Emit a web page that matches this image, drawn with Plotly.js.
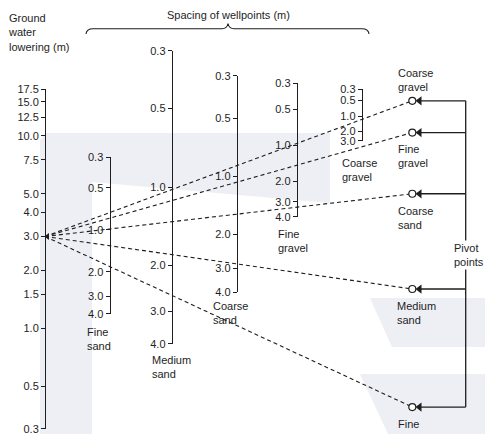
<!DOCTYPE html>
<html>
<head>
<meta charset="utf-8">
<script src="https://cdn.plot.ly/plotly-3.0.1.min.js"></script>
<style>html,body{margin:0;padding:0;background:#fff;}#chart{width:485px;height:434px;}</style>
</head>
<body>
<div id="chart"></div>
<script>
// ---------------- data ----------------
const groundWaterTicks = [17.5, 15.0, 12.5, 10.0, 7.5, 5.0, 4.0, 3.0, 2.0, 1.5, 1.0, 0.5, 0.3];
const spacingTicks = [0.3, 0.5, 1.0, 2.0, 3.0, 4.0];
const coarseGravelTicks = [0.3, 0.5, 1.0, 2.0, 3.0];
const soilNames = ['Fine sand', 'Medium sand', 'Coarse sand', 'Fine gravel', 'Coarse gravel'];
const soilTicks = [spacingTicks, spacingTicks, spacingTicks, spacingTicks, coarseGravelTicks];
// pivot points, read on the ground-water-lowering scale (m)
const pivotNames = ['Coarse gravel', 'Fine gravel', 'Coarse sand', 'Medium sand', 'Fine sand'];
const pivotLowering = [15.2, 10.4, 5.0, 1.6, 0.39];
const exampleLowering = 3.0;

// ---------------- layout helpers ----------------
const W = 485, H = 434;
const px = x => x / W;
const py = y => 1 - y / H;
const FONT = 'Liberation Sans, Arial, Helvetica, sans-serif';
const INK = '#1e1e1e';
const EPS = 1e-4;

// horizontal placement (pixels) of each scale
const gwX = 45;
const soilX = [109.5, 171.7, 236.7, 296.7, 361.7];
// vertical extent (pixels, top/bottom) of each scale
const gwTop = 89, gwBottom = 429;
const soilTop = [157, 50.7, 75.7, 83.3, 89];
const soilBottom = [314, 344, 292.3, 216.7, 140.7];
const pivotX = 412.3, collectorX = 465.7, arrowTipX = 419.5;

function scaleAxis(ticks, top, bottom, xPos, reversed) {
  const lo = Math.log10(Math.min(...ticks)) - EPS, hi = Math.log10(Math.max(...ticks)) + EPS;
  return {
    type: 'log',
    range: reversed ? [hi, lo] : [lo, hi],
    domain: [py(bottom), py(top)],
    anchor: 'free', position: px(xPos), side: 'left',
    showline: true, linecolor: INK, linewidth: 1.2,
    ticks: 'outside', ticklen: 4, tickwidth: 1, tickcolor: INK,
    tickmode: 'array', tickvals: ticks, ticktext: ticks.map(v => v.toFixed(1)),
    tickfont: {family: FONT, size: 11, color: INK},
    ticklabeloverflow: 'allow',
    showgrid: false, zeroline: false, automargin: false, fixedrange: true
  };
}

const layout = {
  width: W, height: H,
  margin: {l: 0, r: 0, t: 0, b: 0},
  paper_bgcolor: '#ffffff', plot_bgcolor: 'rgba(0,0,0,0)',
  showlegend: false,
  xaxis: {range: [0, W], domain: [0, 1], visible: false, fixedrange: true, anchor: 'y'},
  yaxis: scaleAxis(groundWaterTicks, gwTop, gwBottom, gwX, false),
  annotations: [], shapes: []
};

soilTicks.forEach((t, i) => {
  layout['yaxis' + (i + 2)] = scaleAxis(t, soilTop[i], soilBottom[i], soilX[i], true);
});

const traces = [];
// hidden traces so every scale is a live subplot
soilTicks.forEach((t, i) => {
  traces.push({x: [soilX[i], soilX[i]], y: [t[0], t[t.length - 1]], yaxis: 'y' + (i + 2),
    mode: 'lines', opacity: 0, hoverinfo: 'skip'});
});
// dashed construction lines
pivotLowering.forEach(p => {
  traces.push({x: [gwX, pivotX], y: [exampleLowering, p], mode: 'lines',
    line: {color: INK, width: 1.1, dash: '4px,3px'}, hoverinfo: 'skip'});
});
// start mark on the ground-water scale
traces.push({x: [gwX + 2.5], y: [exampleLowering], mode: 'markers',
  marker: {symbol: 'triangle-left', size: 6, color: INK}, hoverinfo: 'skip'});
// arrows from collector bar
pivotLowering.forEach(p => {
  traces.push({x: [collectorX, arrowTipX], y: [p, p], mode: 'lines',
    line: {color: INK, width: 1.3}, hoverinfo: 'skip'});
});
traces.push({x: [collectorX, collectorX], y: [Math.max(...pivotLowering), Math.min(...pivotLowering)],
  mode: 'lines', line: {color: INK, width: 1.3}, hoverinfo: 'skip'});
traces.push({x: pivotLowering.map(() => arrowTipX), y: pivotLowering, mode: 'markers',
  marker: {symbol: 'triangle-left', size: 8, color: INK}, hoverinfo: 'skip'});
// pivot circles
traces.push({x: pivotLowering.map(() => pivotX), y: pivotLowering, mode: 'markers',
  marker: {symbol: 'circle', size: 7, color: '#ffffff', line: {color: INK, width: 1.2}}, hoverinfo: 'skip'});

// ---------------- text ----------------
function label(text, xLeft, yMid, extra) {
  layout.annotations.push(Object.assign({
    text: text, xref: 'paper', yref: 'paper', x: px(xLeft), y: py(yMid),
    xanchor: 'left', yanchor: 'middle', align: 'left', showarrow: false,
    font: {family: FONT, size: 11, color: INK}, borderpad: 0
  }, extra || {}));
}
label('Spacing of wellpoints (m)', 228, 15, {xanchor: 'center', align: 'center'});
label('Ground<br>water<br>lowering (m)', 7, 32);
const axisLabelPos = [[86, 338.5], [151, 366.7], [212, 313.3], [277, 240.5], [341, 169.5]];
soilNames.forEach((n, i) => label(n.replace(' ', '<br>'), axisLabelPos[i][0], axisLabelPos[i][1]));
const pivotLabelPos = [[397, 80.3], [397, 155.7], [397, 217.5], [396, 312.5], [397, 431]];
pivotNames.forEach((n, i) => label(n.replace(' ', '<br>'), pivotLabelPos[i][0], pivotLabelPos[i][1]));
label('Pivot<br>points', 469, 254.5, {xanchor: 'center', align: 'left', bgcolor: '#ffffff', borderpad: 1});

// ---------------- brace over the spacing scales ----------------
const braceY = 28.7;
const braceD = ['M', px(86), py(34), 'Q', px(86.5), py(braceY), px(93), py(braceY),
  'L', px(222), py(braceY), 'Q', px(227), py(braceY), px(228), py(23.5),
  'Q', px(229), py(braceY), px(234), py(braceY),
  'L', px(362), py(braceY), 'Q', px(368.5), py(braceY), px(369), py(34)].join(' ');
layout.shapes.push({type: 'path', xref: 'paper', yref: 'paper', path: braceD,
  line: {color: INK, width: 1.1}, layer: 'above'});

// ---------------- faint background watermark ----------------
function poly(pts) {
  return 'M ' + pts.map(p => px(p[0]) + ',' + py(p[1])).join(' L ') + ' Z';
}
const WM = '#eeeff5';
[
  [[40, 140], [46, 133], [330, 133], [330, 203], [92, 182], [92, 434], [40, 434]],
  [[370, 298], [485, 298], [485, 347], [392, 347]],
  [[360, 374], [485, 374], [485, 434], [388, 434]]
].forEach(pts => layout.shapes.push({type: 'path', xref: 'paper', yref: 'paper', path: poly(pts),
  fillcolor: WM, line: {width: 0}, layer: 'below'}));

Plotly.newPlot('chart', traces, layout, {staticPlot: true, displayModeBar: false});
</script>
</body>
</html>
